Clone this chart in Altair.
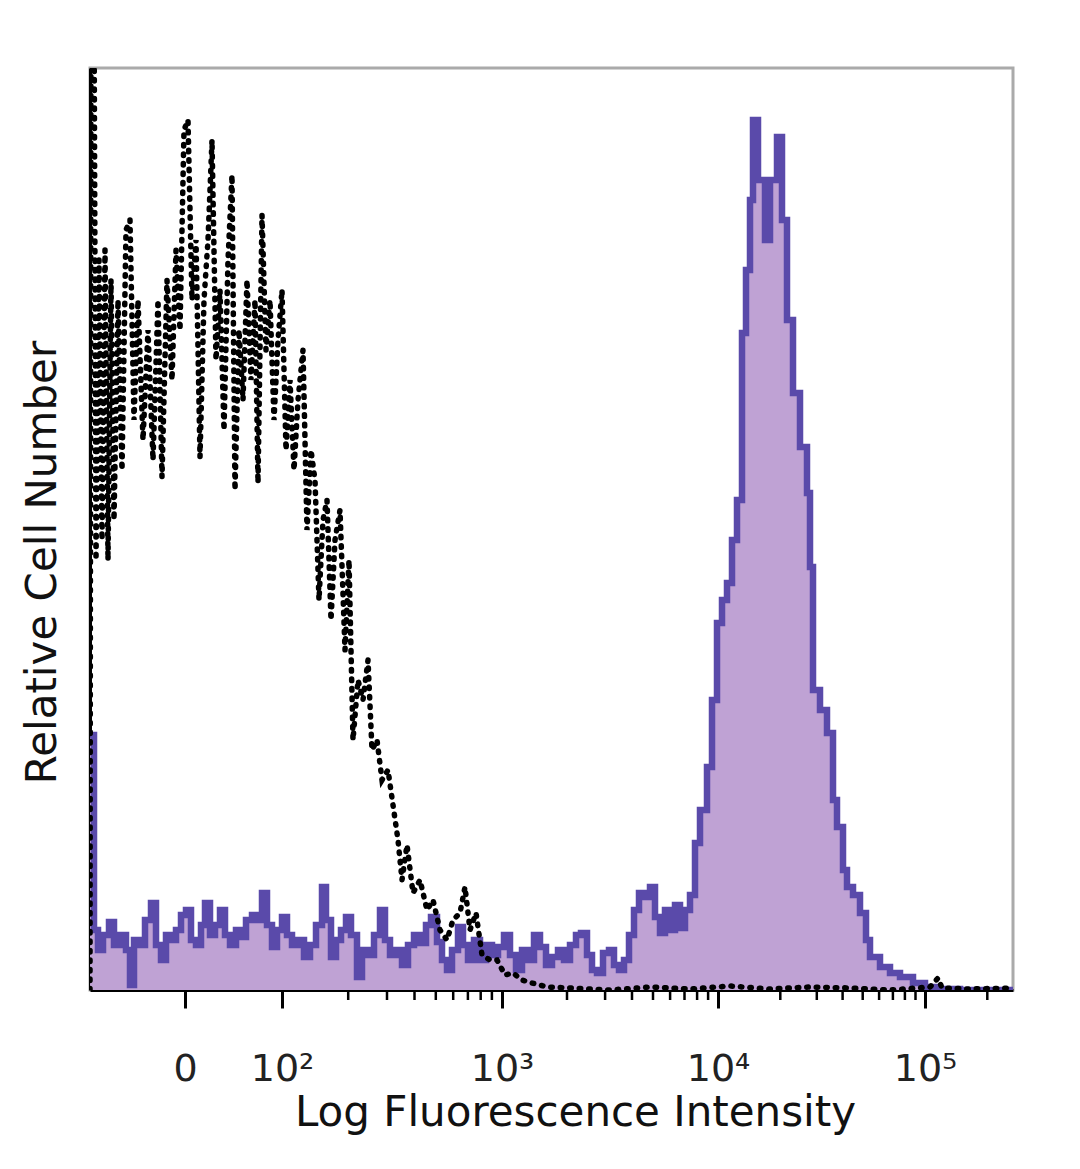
import math
import altair as alt
import pandas as pd

# ---- data (display channel 0-923, relative counts 0-922) ----
iso_x = [0, 1, 4, 6, 9, 12, 15, 18, 21, 24,
         28, 32, 36, 40, 44, 48, 53, 58, 63, 68,
         72, 77, 82, 86, 90, 94, 98, 102, 106, 110,
         114, 118, 122, 126, 130, 134, 138, 142, 145, 149,
         153, 157, 161, 165, 168, 172, 176, 180, 184, 188,
         192, 196, 200, 204, 208, 213, 217, 221, 225, 229,
         233, 237, 241, 245, 250, 255, 259, 263, 268, 273,
         278, 282, 287, 292, 298, 303, 308, 312, 317, 323,
         330, 337, 343, 350, 357, 363, 370, 375, 380, 386,
         392, 400, 407, 415, 423, 432, 442, 457, 480, 520,
         560, 600, 640, 680, 720, 760, 800, 840, 848, 852,
         880, 923]
iso_y = [0, 1000, 1000, 430, 730, 450, 740, 430, 710, 470,
         690, 520, 760, 770, 570, 690, 550, 660, 530, 690,
         513, 710, 610, 740, 660, 860, 870, 690, 750, 533,
         690, 750, 850, 630, 700, 560, 730, 815, 500, 660,
         590, 710, 610, 690, 507, 775, 640, 690, 570, 650,
         700, 540, 610, 520, 590, 640, 460, 540, 510, 390,
         470, 490, 370, 450, 480, 340, 430, 250, 310, 290,
         330, 240, 250, 210, 220, 185, 150, 110, 145, 97,
         110, 80, 90, 60, 50, 70, 77, 103, 60, 77,
         35, 30, 30, 15, 17, 10, 7, 3, 2, 0,
         3, 1, 4, 1, 3, 2, 0, 3, 12, 2,
         1, 2]

pos_x = [0, 4, 8, 13, 19, 24, 30, 36, 40, 44,
         49, 55, 61, 66, 71, 76, 81, 86, 91, 96,
         101, 106, 111, 115, 120, 125, 130, 135, 140, 146,
         151, 156, 162, 168, 172, 177, 182, 187, 192, 197,
         202, 208, 214, 220, 226, 232, 236, 241, 246, 251,
         256, 261, 267, 272, 278, 284, 290, 295, 300, 306,
         312, 318, 324, 330, 336, 341, 347, 352, 357, 362,
         368, 373, 378, 384, 390, 396, 402, 408, 414, 420,
         426, 432, 438, 444, 450, 456, 462, 468, 474, 480,
         486, 491, 497, 502, 507, 513, 519, 524, 529, 534,
         539, 544, 549, 555, 560, 565, 570, 575, 580, 585,
         590, 595, 600, 605, 610, 617, 622, 627, 632, 637,
         642, 647, 652, 656, 660, 663, 668, 675, 680, 687,
         692, 697, 703, 710, 717, 720, 723, 730, 737, 743,
         747, 753, 757, 763, 770, 776, 780, 790, 800, 810,
         823, 835, 850, 870, 923]
pos_y = [255, 60, 40, 55, 68, 45, 55, 40, 5, 50,
         45, 70, 87, 45, 30, 55, 50, 60, 75, 80,
         50, 45, 65, 87, 55, 65, 80, 55, 45, 60,
         53, 70, 75, 70, 97, 65, 43, 60, 73, 55,
         45, 50, 33, 45, 65, 103, 70, 33, 50, 60,
         73, 55, 13, 40, 35, 55, 80, 50, 35, 40,
         25, 45, 55, 47, 65, 73, 48, 30, 20, 40,
         63, 45, 30, 50, 30, 45, 35, 43, 55, 35,
         20, 40, 30, 55, 43, 25, 33, 40, 30, 45,
         55, 57, 35, 20, 17, 37, 40, 25, 20, 30,
         55, 80, 97, 93, 103, 73, 57, 80, 60, 85,
         62, 80, 95, 147, 180, 223, 290, 367, 390, 407,
         450, 490, 657, 720, 790, 870, 810, 750, 810, 853,
         770, 670, 597, 543, 497, 423, 300, 280, 257, 190,
         163, 120, 103, 95, 77, 50, 33, 23, 17, 13,
         7, 3, 1, 0, 0]

major_pos = [95, 192, 412, 628, 835]
major_lab = ["0", "10²", "10³", "10⁴", "10⁵"]

# minor ticks: log subdivisions of each decade on the display scale
decade_pos = [192, 412, 628, 835, 1042]
minor_pos = []
for a, b in zip(decade_pos[:-1], decade_pos[1:]):
    for k in range(2, 10):
        p = a + math.log10(k) * (b - a)
        if p <= 923:
            minor_pos.append(round(p, 1))

iso = pd.DataFrame({"ch": iso_x, "n": iso_y})
pos = pd.DataFrame({"ch": pos_x, "n": pos_y})
minor = pd.DataFrame({"ch": minor_pos})

label_expr = ""
for p, l in zip(major_pos, major_lab):
    label_expr += f"datum.value == {p} ? '{l}' : "
label_expr += "''"

FONT = "DejaVu Sans"
xscale = alt.Scale(domain=[0, 923], nice=False, zero=False)
yscale = alt.Scale(domain=[0, 922], nice=False, zero=True)

xaxis = alt.Axis(
    values=major_pos, labelExpr=label_expr, grid=False,
    tickSize=18, tickWidth=3, tickColor="black",
    domainColor="black", domainWidth=3,
    labelFont=FONT, labelFontSize=38, labelColor="#222",
    labelPadding=42, labelFlush=False, labelOverlap=False,
    title="Log Fluorescence Intensity", titleFont=FONT, titleFontSize=42,
    titleFontWeight="normal", titleColor="#111",
    titleX=485, titleY=135, titleBaseline="alphabetic", titleAlign="center",
)
yaxis = alt.Axis(
    ticks=False, labels=False, grid=False,
    domainColor="black", domainWidth=3,
    title="Relative Cell Number", titleFont=FONT, titleFontSize=42,
    titleFontWeight="normal", titleColor="#111",
    titleX=-35, titleY=494, titleAngle=270, titleBaseline="alphabetic",
    titleAlign="center",
)

fill = alt.Chart(pos).mark_area(
    interpolate="step-after", color="#bfa2d4", clip=True
).encode(
    x=alt.X("ch:Q", scale=xscale, axis=xaxis),
    y=alt.Y("n:Q", scale=yscale, axis=yaxis),
)
outline = alt.Chart(pos).mark_line(
    interpolate="step-after", color="#5a4aaa", strokeWidth=6.5, clip=True
).encode(x=alt.X("ch:Q", scale=xscale), y=alt.Y("n:Q", scale=yscale))

dotted = alt.Chart(iso).mark_line(
    color="black", strokeWidth=5.5, strokeDash=[1.5, 8], strokeCap="round", clip=True
).encode(x=alt.X("ch:Q", scale=xscale), y=alt.Y("n:Q", scale=yscale))

minor_ticks = alt.Chart(minor).mark_rule(color="black", strokeWidth=2.5).encode(
    x=alt.X("ch:Q", scale=xscale), y=alt.value(922), y2=alt.value(932)
)

chart = alt.layer(fill, outline, dotted, minor_ticks).properties(
    width=923, height=922,
    autosize=alt.AutoSizeParams(type="none"),
    padding={"left": 82, "top": 60, "right": 59, "bottom": 160},
    background="white",
).configure_view(stroke="#aaaaaa", strokeWidth=3)

chart.save("out.html", embed_options={"renderer": "svg", "actions": False})
